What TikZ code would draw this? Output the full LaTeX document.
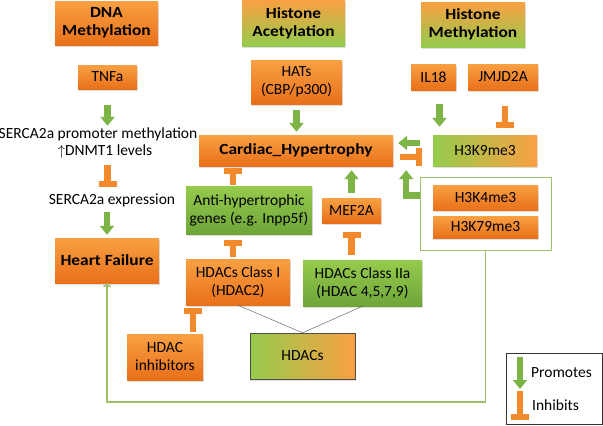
\documentclass[tikz,border=0pt]{standalone}
\usepackage{fontspec}
\setmainfont{Carlito}[BoldFeatures={FakeStretch=1.12}]
\usetikzlibrary{arrows.meta,shadows}

\definecolor{orA}{HTML}{F9A043}
\definecolor{orB}{HTML}{E8701A}
\definecolor{grA}{HTML}{96CB4C}
\definecolor{grB}{HTML}{6EA539}
\definecolor{arG}{HTML}{7DB446}
\definecolor{arO}{HTML}{F28A2B}
\definecolor{lnG}{HTML}{9DC06A}

\begin{document}
\begin{tikzpicture}[x=1pt,y=-1pt,
        font=\fontsize{15.5}{18}\selectfont,
        box/.style={inner sep=1pt,align=center,
            drop shadow={opacity=0.25,shadow xshift=1pt,shadow yshift=-1.5pt}},
        orbox/.style={box,top color=orA,bottom color=orB},
        grbox/.style={box,top color=grA,bottom color=grB},
        ogbox/.style={box,top color=orA,bottom color=grA},
        lbl/.style={inner sep=0pt,minimum height=14pt},
        promo/.style={line width=6.5pt,draw=arG,-{Triangle[length=9pt,width=14pt]}},
        inhib/.style={line width=6.5pt,draw=arO,-{Rectangle[length=6pt,width=18pt]}}]
        \useasboundingbox (0,0) rectangle (603,426);

        % top row
        \node[orbox,minimum width=103pt,minimum height=44pt] (dna) at (106.5,23) {\textbf{DNA}\\\textbf{Methylation}};
        \node[ogbox,minimum width=103pt,minimum height=46pt] (hac) at (293.5,23) {\textbf{Histone}\\\textbf{Acetylation}};
        \node[ogbox,minimum width=104pt,minimum height=45pt] (hme) at (473,24.5) {\textbf{Histone}\\\textbf{Methylation}};

        \node[orbox,minimum width=59pt,minimum height=24pt] (tnfa) at (107.5,77) {TNFa};
        \node[orbox,minimum width=91pt,minimum height=44pt] (hats) at (296.5,82) {HATs\\(CBP/p300)};
        \node[orbox,minimum width=45pt,minimum height=26pt] (il18) at (433.5,77) {IL18};
        \node[orbox,minimum width=70pt,minimum height=26pt] (jmjd) at (503,77) {JMJD2A};

        % DNA methylation column
        \node[lbl] (prom) at (98,134) {SERCA2a promoter methylation};
        \node[lbl] (dnmt) at (105,152) {$\uparrow$DNMT1 levels};
        \node[lbl] (serca) at (112,200) {SERCA2a expression};
        \node[orbox,minimum width=104pt,minimum height=45pt] (hf) at (107,260.5) {\textbf{Heart Failure}};

        % centre
        \node[orbox,minimum width=194pt,minimum height=31pt] (cardiac) at (296,150.5) {\textbf{Cardiac\_Hypertrophy}};
        \node[box,left color=grA,right color=orA,minimum width=104pt,minimum height=31pt] (h3k9) at (485,150.5) {H3K9me3};
        \node[grbox,minimum width=126pt,minimum height=48pt] (anti) at (249,210) {Anti-hypertrophic\\genes (e.g. Inpp5f)};
        \node[orbox,minimum width=59pt,minimum height=25pt] (mef2a) at (351.5,210.5) {MEF2A};
        \node[orbox,minimum width=104pt,minimum height=46pt] (hdac1) at (238,282) {HDACs Class I\\(HDAC2)};
        \node[grbox,minimum width=119pt,minimum height=46pt] (hdac2) at (362.5,283) {HDACs Class IIa\\(HDAC 4,5,7,9)};
        \node[orbox,minimum width=76pt,minimum height=46pt] (hinh) at (165,357) {HDAC\\inhibitors};
        \node[box,left color=grA,right color=orA,draw=black!70,minimum width=105pt,minimum height=46pt] (hdacs) at (302.5,356) {HDACs};

        % histone marks group
        \node[draw=lnG,thin,minimum width=131pt,minimum height=73pt] (grp) at (485.5,213.5) {};
        \node[orbox,minimum width=105pt,minimum height=25pt] (h3k4) at (485.5,197.5) {H3K4me3};
        \node[orbox,minimum width=105pt,minimum height=22pt] (h3k79) at (485.5,227) {H3K79me3};

        % connectors
        \draw[promo,shorten <=16pt,shorten >=1pt] (tnfa.south) -- (tnfa.south |- prom.north);
        \draw[inhib,shorten <=6pt,shorten >=6pt] (dnmt.south -| tnfa) -- (serca.north -| tnfa);
        \draw[promo,shorten <=5pt,shorten >=3pt] (serca.south -| hf) -- (hf.north);
        \draw[promo,shorten <=6pt,shorten >=3pt] (hats.south) -- (hats.south |- cardiac.north);
        \draw[promo,shorten <=14pt,shorten >=8pt] ([xshift=6pt]il18.south) -- ([xshift=6pt]il18.south |- h3k9.north);
        \draw[inhib,shorten <=16pt,shorten >=7pt] ([xshift=2pt]jmjd.south) -- ([xshift=2pt]jmjd.south |- h3k9.north);
        \draw[promo,shorten <=13pt,shorten >=5pt] ([yshift=7.5pt]h3k9.west) -- ([yshift=7.5pt]cardiac.east);
        \draw[inhib,shorten <=7pt,shorten >=11pt] ([yshift=-6.5pt]cardiac.east) -- ([yshift=-6.5pt]h3k9.west);
        \draw[inhib,shorten <=1pt,shorten >=2pt] ([xshift=-16pt]anti.north) -- ([xshift=-16pt]anti.north |- cardiac.south);
        \draw[promo,shorten <=5pt,shorten >=4pt] (mef2a.north) -- (mef2a.north |- cardiac.south);
        \draw[inhib,shorten <=5pt,shorten >=9pt] (hdac2.north -| mef2a) -- (mef2a.south);
        \draw[inhib,shorten <=2pt,shorten >=6pt] ([xshift=-5pt]hdac1.north) -- ([xshift=-5pt]hdac1.north |- anti.south);
        \draw[inhib,shorten <=2pt,shorten >=3pt] ([xshift=28pt]hinh.north) -- ([xshift=28pt]hinh.north |- hdac1.south);
        \draw[promo,line join=miter] ([yshift=18pt]grp.west) -| ([xshift=13pt,yshift=-4pt]cardiac.south east);
        \draw[lnG,line width=1.6pt,-{To[length=4pt,width=8pt]}] (grp.south) -- ++(0,152) -| (hf.south);
        \draw[black!70] (hdacs.north) -- (hdac1.south);
        \draw[black!70] (hdacs.north) -- (hdac2.south);

        % legend
        \node[draw=black!80,minimum width=96pt,minimum height=71pt] (leg) at (554,388.5) {};
        \coordinate (pa) at (520,357);
        \coordinate (pb) at (520,389);
        \coordinate (ia) at (520,391);
        \coordinate (ib) at (520,420);
        \draw[promo] (pa) -- (pb);
        \draw[inhib] (ia) -- (ib);
        \node[anchor=west,inner sep=0pt] (ptxt) at (531,373) {Promotes};
        \node[anchor=west,inner sep=0pt] (itxt) at (532,405) {Inhibits};
    \end{tikzpicture}
\end{document}
